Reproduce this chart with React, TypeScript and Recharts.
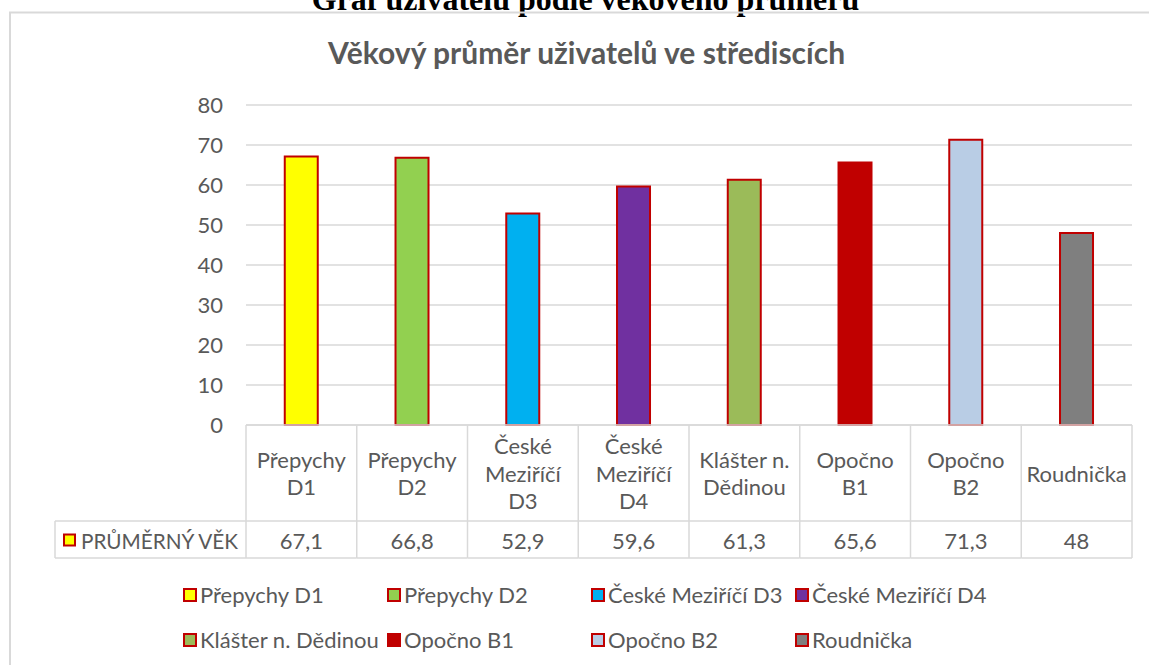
import { BarChart, Bar, Cell, XAxis, YAxis, CartesianGrid, Legend } from 'recharts';

const categories = [
  'Přepychy D1',
  'Přepychy D2',
  'České Meziříčí D3',
  'České Meziříčí D4',
  'Klášter n. Dědinou',
  'Opočno B1',
  'Opočno B2',
  'Roudnička',
];
// zalomení popisků v tabulce pod grafem
const tickLabels = [
  ['Přepychy', 'D1'],
  ['Přepychy', 'D2'],
  ['České', 'Meziříčí', 'D3'],
  ['České', 'Meziříčí', 'D4'],
  ['Klášter n.', 'Dědinou'],
  ['Opočno', 'B1'],
  ['Opočno', 'B2'],
  ['Roudnička'],
];
const values = [67.1, 66.8, 52.9, 59.6, 61.3, 65.6, 71.3, 48];
const barColors = ['#FFFF00', '#92D050', '#00B0F0', '#7030A0', '#9BBB59', '#C00000', '#B9CDE5', '#7F7F7F'];
const yTicks = [0, 10, 20, 30, 40, 50, 60, 70, 80];
const seriesName = 'PRŮMĚRNÝ VĚK';

const data = categories.map((name, i) => ({ name, value: values[i] }));

const W = 1149;
const H = 665;
const FONT = 'Lato, "Open Sans", sans-serif';
const TEXT = '#595959';
const GRID = '#D9D9D9';
const EDGE = '#C00000';

const PLOT_LEFT = 246;
const PLOT_RIGHT = 1132;
const PLOT_TOP = 105;
const PLOT_BOTTOM = 425;
const HEADER_BOTTOM = 521;
const ROW_BOTTOM = 558;
const ROW_HEAD_LEFT = 55;
const FS = 22;

const fmt = (v: number) => String(v).replace('.', ',');

function TableTick(props: any) {
  const { x, payload } = props;
  const index = payload?.index ?? props.index ?? 0;
  const half = payload?.offset || (PLOT_RIGHT - PLOT_LEFT) / categories.length / 2;
  const left = x - half;
  const right = x + half;
  const lines = tickLabels[index] || [String(payload.value)];
  const lh = 27.5;
  const mid = (PLOT_BOTTOM + HEADER_BOTTOM) / 2;
  const y0 = mid - ((lines.length - 1) * lh) / 2;
  const valueMid = (HEADER_BOTTOM + ROW_BOTTOM) / 2;
  return (
    <g>
      {index === 0 && (
        <g>
          <line x1={left} y1={PLOT_BOTTOM} x2={left} y2={ROW_BOTTOM} stroke={GRID} strokeWidth={1.5} />
          <line x1={ROW_HEAD_LEFT} y1={HEADER_BOTTOM} x2={left} y2={HEADER_BOTTOM} stroke={GRID} strokeWidth={1.5} />
          <line x1={ROW_HEAD_LEFT} y1={ROW_BOTTOM} x2={left} y2={ROW_BOTTOM} stroke={GRID} strokeWidth={1.5} />
          <line x1={ROW_HEAD_LEFT} y1={HEADER_BOTTOM} x2={ROW_HEAD_LEFT} y2={ROW_BOTTOM} stroke={GRID} strokeWidth={1.5} />
          <rect x={64} y={valueMid - 5} width={11} height={11} fill={barColors[0]} stroke={EDGE} strokeWidth={2} />
          <text
            x={81}
            y={valueMid + 1}
            dominantBaseline="central"
            fontSize={FS}
            fill={TEXT}
            fontFamily={FONT}
            textLength={157}
            lengthAdjust="spacingAndGlyphs"
          >
            {seriesName}
          </text>
        </g>
      )}
      <line x1={right} y1={PLOT_BOTTOM} x2={right} y2={ROW_BOTTOM} stroke={GRID} strokeWidth={1.5} />
      <line x1={left} y1={HEADER_BOTTOM} x2={right} y2={HEADER_BOTTOM} stroke={GRID} strokeWidth={1.5} />
      <line x1={left} y1={ROW_BOTTOM} x2={right} y2={ROW_BOTTOM} stroke={GRID} strokeWidth={1.5} />
      {lines.map((l, i) => (
        <text key={i} x={x} y={y0 + i * lh} textAnchor="middle" dominantBaseline="central" fontSize={FS} fill={TEXT} fontFamily={FONT}>
          {l}
        </text>
      ))}
      <text x={x} y={valueMid + 1} textAnchor="middle" dominantBaseline="central" fontSize={FS} fill={TEXT} fontFamily={FONT}>
        {fmt(values[index])}
      </text>
    </g>
  );
}

function LegendBox() {
  return (
    <div style={{ display: 'grid', gridTemplateColumns: 'repeat(4, 204px)', fontFamily: FONT, fontSize: FS, color: TEXT }}>
      {categories.map((c, i) => (
        <div key={c} style={{ display: 'flex', alignItems: 'center', height: 45, whiteSpace: 'nowrap' }}>
          <span
            style={{
              display: 'inline-block',
              width: 10,
              height: 10,
              background: barColors[i],
              border: `2px solid ${EDGE}`,
              marginRight: 3,
            }}
          />
          {c}
        </div>
      ))}
    </div>
  );
}

export default function App() {
  return (
    <div style={{ position: 'absolute', left: 0, top: 0, width: W, height: H, overflow: 'hidden', background: '#fff' }}>
      <svg width={W} height={H} style={{ position: 'absolute', left: 0, top: 0 }}>
        <text x={585.5} y={9.5} textAnchor="middle" fontFamily='"Liberation Serif", "Times New Roman", serif' fontWeight="bold" fontSize={32} fill="#000">
          Graf uživatelů podle věkového průměru
        </text>
        <path d={`M10 ${H + 5} L10 12.5 L${W + 5} 12.5`} fill="none" stroke={GRID} strokeWidth={2} />
        <text x={586.5} y={64} textAnchor="middle" fontFamily={FONT} fontWeight="bold" fontSize={30} fill={TEXT}>
          Věkový průměr uživatelů ve střediscích
        </text>
      </svg>
      <div style={{ position: 'absolute', left: 0, top: 0 }}>
        <BarChart
          width={W}
          height={H}
          data={data}
          margin={{ top: PLOT_TOP, right: W - PLOT_RIGHT, bottom: H - ROW_BOTTOM, left: 0 }}
          barCategoryGap="35%"
        >
          <CartesianGrid vertical={false} stroke={GRID} strokeWidth={1.5} />
          <YAxis
            width={PLOT_LEFT}
            domain={[0, 80]}
            ticks={yTicks}
            axisLine={false}
            tickLine={false}
            tickSize={6}
            tickMargin={17}
            tick={{ fill: TEXT, fontSize: FS, fontFamily: FONT }}
          />
          <XAxis
            dataKey="name"
            height={ROW_BOTTOM - PLOT_BOTTOM}
            interval={0}
            tickLine={false}
            axisLine={{ stroke: GRID, strokeWidth: 1.5 }}
            tick={(p: any) => <TableTick {...p} />}
          />
          <Legend
            layout="horizontal"
            verticalAlign="middle"
            align="center"
            wrapperStyle={{ left: 183, top: 572, width: 820 }}
            content={() => <LegendBox />}
          />
          <Bar dataKey="value" name={seriesName} stroke={EDGE} strokeWidth={2} isAnimationActive={false}>
            {data.map((d, i) => (
              <Cell key={d.name} fill={barColors[i]} />
            ))}
          </Bar>
        </BarChart>
      </div>
    </div>
  );
}
